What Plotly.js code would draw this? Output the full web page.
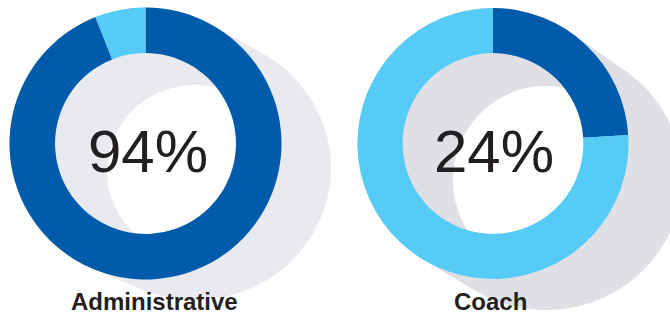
<!DOCTYPE html>
<html>
<head>
<meta charset="utf-8">
<script src="https://cdn.plot.ly/plotly-3.0.1.min.js"></script>
<style>html,body{margin:0;padding:0;background:#fff;}#chart{width:670px;height:316px;}</style>
</head>
<body>
<div id="chart"></div>
<script>
// ---- data ----
const panelNames = ['Administrative', 'Coach'];
const segmentLabels = ['Yes', 'No'];
const adminValues = [94, 6];
const coachValues = [24, 76];
const adminColors = ['#005cab', '#56cbf5'];
const coachColors = ['#005cab', '#56cbf5'];

// ---- layout helpers (pixel geometry -> paper) ----
const W = 670, H = 316;
const px = x => x / W;
const py = y => 1 - y / H;

const panels = [
  {name: panelNames[0], values: adminValues, colors: adminColors,
   cx: 145.5, cy: 143.5, R: 136, hole: 0.665,
   shadow: {cx: 195, cy: 168, rx: 136, ry: 132, hcx: 195, hcy: 171, hrx: 88, hry: 86, color: '#e9eaef'},
   textX: 148, labelX: 154},
  {name: panelNames[1], values: coachValues, colors: coachColors,
   cx: 493, cy: 143.5, R: 135.5, hole: 0.667,
   shadow: {cx: 546, cy: 178, rx: 136, ry: 132, hcx: 546, hcy: 180, hrx: 93, hry: 94, color: '#dfe0e6'},
   textX: 494, labelX: 490}
];

function hull(pts) {
  pts = pts.slice().sort((a, b) => a[0] - b[0] || a[1] - b[1]);
  const cross = (o, a, b) => (a[0]-o[0])*(b[1]-o[1]) - (a[1]-o[1])*(b[0]-o[0]);
  const lower = [], upper = [];
  for (const p of pts) { while (lower.length >= 2 && cross(lower[lower.length-2], lower[lower.length-1], p) <= 0) lower.pop(); lower.push(p); }
  for (let i = pts.length - 1; i >= 0; i--) { const p = pts[i]; while (upper.length >= 2 && cross(upper[upper.length-2], upper[upper.length-1], p) <= 0) upper.pop(); upper.push(p); }
  upper.pop(); lower.pop();
  return lower.concat(upper);
}
function toPath(pts) {
  return 'M' + pts.map(p => px(p[0]).toFixed(5) + ',' + py(p[1]).toFixed(5)).join('L') + 'Z';
}
const N = 240;
function ellipsePts(cx, cy, rx, ry) {
  const a = [];
  for (let i = 0; i < N; i++) { const t = 2 * Math.PI * i / N; a.push([cx + rx * Math.cos(t), cy + ry * Math.sin(t)]); }
  return a;
}

const traces = [];
const shapes = [];
const annotations = [];

panels.forEach(p => {
  const s = p.shadow;
  // long shadow: hull of original disk and final ellipse
  const outer = hull(ellipsePts(p.cx, p.cy, p.R, p.R).concat(ellipsePts(s.cx, s.cy, s.rx, s.ry)));
  shapes.push({type: 'path', layer: 'below', xref: 'paper', yref: 'paper', path: toPath(outer),
               fillcolor: s.color, line: {width: 0}});
  // white lens: original hole ∩ shadow hole
  const r0 = p.R * p.hole;
  const inOrig = q => Math.hypot(q[0] - p.cx, q[1] - p.cy) <= r0 + 0.01;
  const inShadow = q => ((q[0]-s.hcx)/s.hrx) ** 2 + ((q[1]-s.hcy)/s.hry) ** 2 <= 1.0001;
  const lensPts = ellipsePts(s.hcx, s.hcy, s.hrx, s.hry).filter(inOrig)
    .concat(ellipsePts(p.cx, p.cy, r0 + 1, r0 + 1).filter(inShadow));
  shapes.push({type: 'path', layer: 'below', xref: 'paper', yref: 'paper', path: toPath(hull(lensPts)),
               fillcolor: '#ffffff', line: {width: 0}});

  traces.push({
    type: 'pie', labels: segmentLabels, values: p.values, hole: p.hole, sort: false,
    direction: 'clockwise', rotation: 0, textinfo: 'none', hoverinfo: 'none', showlegend: false,
    marker: {colors: p.colors, line: {width: 0}},
    domain: {x: [px(p.cx - p.R), px(p.cx + p.R)], y: [py(p.cy + p.R), py(p.cy - p.R)]}
  });
  annotations.push({
    xref: 'paper', yref: 'paper', x: px(p.textX), y: py(151), xanchor: 'center', yanchor: 'middle',
    text: p.values[0] + '%', showarrow: false,
    font: {family: 'Liberation Sans, Arial, sans-serif', size: 60, color: '#231f20'}
  });
  annotations.push({
    xref: 'paper', yref: 'paper', x: px(p.labelX), y: 0, xanchor: 'center', yanchor: 'bottom',
    borderpad: 0, text: '<b>' + p.name + '</b>', showarrow: false,
    font: {family: 'Liberation Sans, Arial, sans-serif', size: 24, color: '#231f20'}
  });
});

Plotly.newPlot('chart', traces, {
  width: W, height: H, margin: {l: 0, r: 0, t: 0, b: 0},
  paper_bgcolor: '#ffffff', plot_bgcolor: '#ffffff',
  shapes: shapes, annotations: annotations
}, {staticPlot: true});
</script>
</body>
</html>
